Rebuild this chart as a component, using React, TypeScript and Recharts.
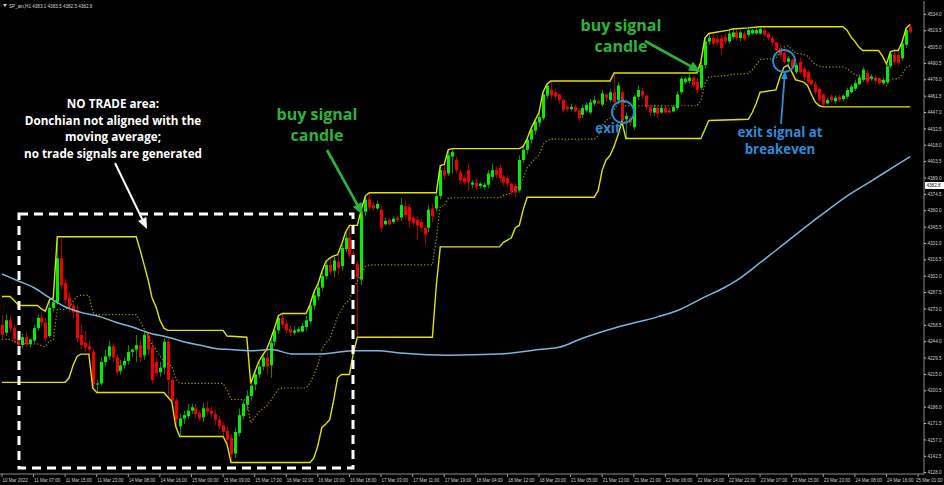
import React from 'react';
import { ComposedChart, Bar, Line, XAxis, YAxis } from 'recharts';

// SP_ain H1 candles, one value per hour starting 10 Mar 2022
const OPEN = [
  4259, 4252, 4263, 4256, 4246, 4241, 4248, 4242, 4245, 4256,
  4265, 4261, 4249, 4274, 4279, 4318, 4296, 4283, 4276, 4272,
  4250, 4243, 4240, 4235, 4206, 4207, 4226, 4231, 4240, 4230,
  4218, 4223, 4227, 4235, 4237, 4241, 4232, 4250, 4239, 4226,
  4217, 4221, 4244, 4210, 4192, 4169, 4176, 4178, 4183, 4185,
  4181, 4177, 4185, 4183, 4180, 4175, 4170, 4165, 4159, 4145,
  4163, 4178, 4188, 4196, 4206, 4215, 4222, 4230, 4223, 4244,
  4254, 4265, 4260, 4255, 4252, 4253, 4253, 4257, 4262, 4276,
  4284, 4292, 4302, 4312, 4307, 4315, 4311, 4326, 4336, 4322,
  4313, 4299, 4359, 4370, 4365, 4362, 4361, 4348, 4352, 4350,
  4354, 4354, 4364, 4363, 4354, 4352, 4350, 4345, 4345, 4362,
  4362, 4373, 4396, 4393, 4408, 4405, 4394, 4389, 4396, 4383,
  4385, 4382, 4381, 4383, 4390, 4396, 4398, 4390, 4389, 4384,
  4382, 4378, 4405, 4414, 4423, 4431, 4438, 4442, 4462, 4467,
  4465, 4463, 4458, 4452, 4450, 4452, 4449, 4445, 4449, 4447,
  4455, 4457, 4454, 4463, 4458, 4465, 4458, 4465, 4441, 4442,
  4434, 4461, 4466, 4462, 4452, 4447, 4451, 4447, 4451, 4449,
  4448, 4451, 4465, 4474, 4475, 4478, 4474, 4469, 4489, 4510,
  4513, 4512, 4513, 4514, 4510, 4514, 4518, 4513, 4517, 4516,
  4517, 4517, 4517, 4520, 4517, 4513, 4509, 4504, 4500, 4492,
  4494, 4483, 4492, 4486, 4483, 4476, 4472, 4468, 4463, 4455,
  4461, 4457, 4461, 4459, 4461, 4465, 4468, 4472, 4476, 4482,
  4477, 4478, 4477, 4473, 4474, 4488, 4498, 4498, 4495, 4507,
  4523,
];

const HIGH = [
  4268, 4268, 4267, 4259, 4252, 4251, 4252, 4247, 4259, 4268,
  4270, 4265, 4281, 4283, 4337, 4336, 4300, 4288, 4278, 4277,
  4259, 4254, 4246, 4238, 4210, 4230, 4237, 4245, 4243, 4233,
  4228, 4230, 4241, 4238, 4250, 4246, 4254, 4252, 4246, 4230,
  4226, 4247, 4248, 4212, 4194, 4180, 4183, 4189, 4189, 4189,
  4183, 4190, 4191, 4187, 4183, 4178, 4173, 4169, 4162, 4168,
  4185, 4192, 4201, 4207, 4217, 4226, 4232, 4237, 4246, 4256,
  4267, 4269, 4263, 4259, 4258, 4257, 4261, 4267, 4277, 4288,
  4295, 4306, 4315, 4318, 4320, 4321, 4330, 4341, 4347, 4325,
  4316, 4361, 4373, 4376, 4368, 4369, 4364, 4354, 4354, 4355,
  4356, 4371, 4370, 4366, 4356, 4355, 4353, 4347, 4365, 4366,
  4375, 4400, 4401, 4414, 4415, 4408, 4396, 4392, 4402, 4387,
  4389, 4385, 4385, 4396, 4402, 4399, 4401, 4392, 4392, 4385,
  4385, 4409, 4417, 4424, 4433, 4440, 4447, 4465, 4472, 4475,
  4468, 4464, 4460, 4454, 4455, 4454, 4451, 4454, 4456, 4459,
  4462, 4459, 4467, 4464, 4468, 4482, 4474, 4467, 4447, 4444,
  4463, 4471, 4469, 4463, 4454, 4454, 4453, 4454, 4453, 4452,
  4454, 4466, 4479, 4479, 4481, 4479, 4477, 4492, 4513, 4517,
  4516, 4515, 4516, 4517, 4520, 4521, 4520, 4520, 4519, 4522,
  4521, 4522, 4523, 4522, 4518, 4515, 4510, 4507, 4502, 4497,
  4495, 4491, 4496, 4488, 4485, 4478, 4474, 4470, 4464, 4460,
  4463, 4462, 4463, 4463, 4469, 4472, 4476, 4481, 4487, 4485,
  4481, 4480, 4478, 4478, 4490, 4501, 4501, 4502, 4510, 4522,
  4525,
];

const LOW = [
  4247, 4249, 4252, 4243, 4237, 4238, 4239, 4239, 4243, 4254,
  4258, 4244, 4247, 4270, 4277, 4290, 4277, 4270, 4265, 4243,
  4237, 4235, 4232, 4203, 4199, 4205, 4222, 4228, 4226, 4214,
  4215, 4220, 4224, 4230, 4226, 4226, 4228, 4232, 4207, 4213,
  4213, 4215, 4195, 4191, 4169, 4160, 4171, 4175, 4180, 4176,
  4174, 4173, 4179, 4176, 4170, 4166, 4160, 4153, 4137, 4141,
  4160, 4175, 4183, 4192, 4201, 4212, 4219, 4215, 4212, 4240,
  4251, 4256, 4251, 4249, 4250, 4252, 4252, 4254, 4260, 4272,
  4281, 4289, 4299, 4303, 4301, 4303, 4307, 4323, 4318, 4311,
  4248, 4294, 4355, 4361, 4360, 4361, 4341, 4347, 4347, 4348,
  4350, 4351, 4353, 4345, 4347, 4334, 4341, 4329, 4341, 4350,
  4359, 4370, 4387, 4391, 4393, 4393, 4384, 4383, 4378, 4380,
  4378, 4380, 4379, 4380, 4387, 4389, 4385, 4382, 4381, 4374,
  4372, 4376, 4402, 4410, 4419, 4427, 4434, 4440, 4459, 4459,
  4458, 4455, 4447, 4448, 4448, 4447, 4439, 4442, 4447, 4445,
  4453, 4454, 4452, 4456, 4456, 4454, 4455, 4439, 4424, 4435,
  4432, 4458, 4459, 4449, 4444, 4444, 4442, 4446, 4446, 4446,
  4447, 4449, 4463, 4472, 4473, 4469, 4464, 4467, 4486, 4507,
  4505, 4506, 4498, 4508, 4508, 4512, 4511, 4510, 4510, 4514,
  4516, 4516, 4516, 4514, 4511, 4506, 4501, 4495, 4490, 4489,
  4485, 4481, 4481, 4476, 4472, 4471, 4463, 4455, 4452, 4454,
  4456, 4455, 4456, 4457, 4459, 4464, 4466, 4471, 4474, 4472,
  4475, 4473, 4471, 4471, 4472, 4486, 4489, 4488, 4493, 4504,
  4517,
];

const CLOSE = [
  4250, 4263, 4256, 4246, 4241, 4248, 4242, 4246, 4256, 4265,
  4261, 4247, 4274, 4279, 4318, 4294, 4281, 4275, 4270, 4247,
  4241, 4239, 4237, 4206, 4207, 4226, 4231, 4240, 4230, 4217,
  4223, 4227, 4235, 4237, 4241, 4230, 4250, 4237, 4210, 4216,
  4221, 4244, 4210, 4192, 4175, 4176, 4179, 4183, 4186, 4180,
  4176, 4185, 4182, 4180, 4175, 4169, 4164, 4157, 4144, 4164,
  4179, 4189, 4196, 4205, 4215, 4222, 4230, 4222, 4243, 4254,
  4265, 4259, 4254, 4252, 4254, 4255, 4258, 4263, 4276, 4285,
  4292, 4302, 4312, 4306, 4316, 4309, 4327, 4336, 4321, 4315,
  4301, 4357, 4370, 4363, 4362, 4366, 4345, 4351, 4348, 4353,
  4352, 4365, 4356, 4351, 4349, 4347, 4345, 4339, 4361, 4355,
  4373, 4396, 4391, 4409, 4412, 4396, 4387, 4385, 4385, 4385,
  4381, 4384, 4383, 4393, 4396, 4392, 4389, 4385, 4384, 4377,
  4376, 4405, 4414, 4423, 4432, 4439, 4443, 4463, 4471, 4462,
  4461, 4458, 4449, 4450, 4452, 4448, 4442, 4451, 4454, 4456,
  4458, 4455, 4464, 4460, 4465, 4456, 4471, 4440, 4444, 4438,
  4461, 4467, 4462, 4452, 4447, 4451, 4446, 4451, 4447, 4447,
  4452, 4463, 4477, 4477, 4478, 4471, 4467, 4489, 4510, 4513,
  4508, 4509, 4504, 4510, 4517, 4518, 4513, 4518, 4512, 4520,
  4520, 4520, 4521, 4516, 4513, 4509, 4502, 4498, 4492, 4495,
  4487, 4489, 4483, 4478, 4474, 4472, 4465, 4458, 4454, 4458,
  4458, 4460, 4458, 4462, 4467, 4470, 4473, 4478, 4485, 4474,
  4479, 4475, 4473, 4476, 4488, 4499, 4492, 4491, 4508, 4520,
  4518,
];

// Donchian channel, read as [bar, price] corner points
const UPPER: [number, number][] = [
  [0, 4284], [2, 4284], [3, 4281], [4, 4277], [5, 4276], [9, 4276], [10, 4273], [11, 4271],
  [12, 4281], [13, 4283], [14, 4337], [34, 4337], [35, 4325], [36, 4312], [37, 4299],
  [38, 4283], [39, 4275], [40, 4263], [41, 4256], [42, 4254], [56, 4254], [57, 4249],
  [62, 4248], [63, 4207], [64, 4217], [65, 4226], [66, 4232], [67, 4237], [68, 4246],
  [69, 4256], [70, 4267], [71, 4269], [77, 4269], [78, 4277], [79, 4288], [80, 4295],
  [81, 4306], [82, 4315], [83, 4318], [84, 4320], [85, 4321], [86, 4330], [87, 4341],
  [88, 4347], [90, 4347], [91, 4361], [92, 4373], [93, 4376], [110, 4376], [111, 4400],
  [112, 4401], [113, 4414], [114, 4415], [131, 4415], [132, 4417], [133, 4424], [134, 4433],
  [135, 4440], [136, 4447], [137, 4465], [138, 4472], [139, 4475], [154, 4475], [155, 4482],
  [176, 4482], [177, 4492], [178, 4513], [179, 4517], [184, 4520], [185, 4521], [189, 4522],
  [192, 4523], [213, 4523], [214, 4520], [215, 4514], [216, 4510], [217, 4505], [218, 4502],
  [222, 4502], [223, 4497], [224, 4490], [225, 4501], [226, 4502], [227, 4502], [228, 4510],
  [229, 4522], [230, 4525],
];

const LOWER: [number, number][] = [
  [0, 4208], [16, 4208], [17, 4212], [18, 4223], [19, 4231], [20, 4233], [22, 4233],
  [23, 4203], [24, 4199], [41, 4199], [42, 4195], [43, 4191], [44, 4169], [45, 4160],
  [56, 4160], [57, 4153], [58, 4137], [78, 4137], [79, 4141], [80, 4152], [81, 4168],
  [82, 4171], [83, 4175], [84, 4192], [85, 4212], [86, 4215], [88, 4215], [89, 4234],
  [90, 4248], [109, 4248], [110, 4294], [111, 4328], [126, 4328], [127, 4332], [128, 4334],
  [129, 4336], [130, 4345], [131, 4347], [132, 4361], [133, 4372], [150, 4372], [151, 4378],
  [152, 4396], [153, 4405], [154, 4409], [155, 4417], [156, 4427], [157, 4439], [158, 4424],
  [177, 4424], [178, 4432], [179, 4440], [189, 4441], [190, 4447], [191, 4455], [192, 4465],
  [196, 4467], [197, 4478], [198, 4487], [199, 4489], [200, 4483], [201, 4476], [202, 4475],
  [203, 4474], [204, 4471], [205, 4463], [206, 4456], [207, 4453], [208, 4452], [230, 4452],
];

const MIDDLE: [number, number][] = [
  [0, 4246], [2, 4246], [3, 4244.5], [4, 4242.5], [5, 4242], [9, 4242], [10, 4240.5],
  [11, 4239.5], [12, 4244.5], [13, 4245.5], [14, 4272.5], [16, 4272.5], [17, 4274.5],
  [18, 4280], [19, 4284], [20, 4285], [22, 4285], [23, 4270], [24, 4268], [34, 4268],
  [35, 4262], [36, 4255.5], [37, 4249], [38, 4241], [39, 4237], [40, 4231], [41, 4227.5],
  [42, 4224.5], [43, 4222.5], [44, 4211.5], [45, 4207], [56, 4207], [57, 4201], [58, 4193],
  [62, 4192.5], [63, 4172], [64, 4177], [65, 4181.5], [66, 4184.5], [67, 4187], [68, 4191.5],
  [69, 4196.5], [70, 4202], [71, 4203], [77, 4203], [78, 4207], [79, 4214.5], [80, 4223.5],
  [81, 4237], [82, 4243], [83, 4246.5], [84, 4256], [85, 4266.5], [86, 4272.5], [87, 4278],
  [88, 4281], [89, 4290.5], [90, 4297.5], [91, 4304.5], [92, 4310.5], [93, 4312], [109, 4312],
  [110, 4335], [111, 4364], [112, 4364.5], [113, 4371], [114, 4371.5], [126, 4371.5],
  [127, 4373.5], [128, 4374.5], [129, 4375.5], [130, 4380], [131, 4381], [132, 4389],
  [133, 4398], [134, 4402.5], [135, 4406], [136, 4409.5], [137, 4418.5], [138, 4422],
  [139, 4423.5], [150, 4423.5], [151, 4426.5], [152, 4435.5], [153, 4440], [154, 4442],
  [155, 4449.5], [156, 4454.5], [157, 4460.5], [158, 4453], [176, 4453], [177, 4458],
  [178, 4472.5], [179, 4478.5], [184, 4480], [185, 4481], [189, 4481.5], [190, 4484.5],
  [191, 4489], [192, 4494], [196, 4495], [197, 4500.5], [198, 4505], [199, 4506], [200, 4503],
  [201, 4499.5], [202, 4499], [203, 4498.5], [204, 4497], [205, 4493], [206, 4489.5],
  [207, 4488], [208, 4487.5], [213, 4487.5], [214, 4486], [215, 4483], [216, 4481],
  [217, 4478.5], [218, 4477], [222, 4477], [223, 4474.5], [224, 4471], [225, 4476.5],
  [226, 4477], [227, 4477], [228, 4481], [229, 4487], [230, 4488.5],
];

// slow moving average
const MA: [number, number][] = [
  [0, 4304], [4, 4298], [8, 4292], [12, 4283], [16, 4275], [20, 4270], [25, 4266], [29, 4261],
  [33, 4257], [37, 4252], [42, 4248], [46, 4244], [50, 4241], [54, 4238], [58, 4237], [63, 4236],
  [68, 4237], [74, 4233], [80, 4233], [89, 4236], [95, 4236], [101, 4234], [113, 4232],
  [126, 4233], [136, 4237], [141, 4239], [147, 4247], [156, 4257], [166, 4266], [172, 4273],
  [177, 4282], [183, 4292], [186, 4298], [192, 4314], [200, 4336], [207, 4355], [214, 4373],
  [220, 4386], [225, 4397], [230, 4408],
];

const Y_TICKS = [
  4128.0, 4142.5, 4157.0, 4171.5, 4186.0, 4200.5, 4215.0, 4229.5, 4244.0, 4258.5,
  4273.0, 4287.5, 4302.0, 4316.5, 4331.0, 4345.5, 4360.0, 4374.5, 4389.0, 4403.5,
  4418.0, 4432.5, 4447.0, 4461.5, 4476.0, 4490.5, 4505.0, 4519.5, 4534.0,
];

// one label every 8 bars
const X_LABELS = [
  '10 Mar 2022', '11 Mar 07:00', '11 Mar 15:00', '11 Mar 23:00', '14 Mar 08:00',
  '14 Mar 16:00', '15 Mar 00:00', '15 Mar 09:00', '15 Mar 17:00', '16 Mar 02:00',
  '16 Mar 10:00', '16 Mar 18:00', '17 Mar 03:00', '17 Mar 11:00', '17 Mar 19:00',
  '18 Mar 04:00', '18 Mar 12:00', '18 Mar 20:00', '21 Mar 05:00', '21 Mar 13:00',
  '21 Mar 21:00', '22 Mar 06:00', '22 Mar 14:00', '22 Mar 22:00', '23 Mar 07:00',
  '23 Mar 15:00', '23 Mar 23:00', '24 Mar 08:00', '24 Mar 16:00', '25 Mar 01:00',
];

const LAST_PRICE = 4382.8;
const HEADER = 'SP_ain,H1  4383.1 4383.5 4382.5 4382.8';

const SLOTS = 234; // candles plus the empty chart shift on the right
const AXIS_FONT = "'Liberation Sans', Arial, sans-serif";
const NOTE_FONT = "'Open Sans', 'DejaVu Sans', sans-serif";
const GREEN_TXT = '#2cb53a';
const BLUE_TXT = '#2a8ddb';

type Row = {
  i: number;
  o: number | null;
  h: number | null;
  l: number | null;
  c: number | null;
  range: [number, number] | null;
  upper: number | null;
  lower: number | null;
  mid: number | null;
  ma: number | null;
};

const rows: Row[] = [];
for (let i = 0; i < SLOTS; i++) {
  const has = i < OPEN.length;
  rows.push({
    i,
    o: has ? OPEN[i] : null,
    h: has ? HIGH[i] : null,
    l: has ? LOW[i] : null,
    c: has ? CLOSE[i] : null,
    range: has ? [LOW[i], HIGH[i]] : null,
    upper: null,
    lower: null,
    mid: null,
    ma: null,
  });
}
UPPER.forEach(([i, v]) => { rows[i].upper = v; });
LOWER.forEach(([i, v]) => { rows[i].lower = v; });
MIDDLE.forEach(([i, v]) => { rows[i].mid = v; });
MA.forEach(([i, v]) => { rows[i].ma = v; });

const X_TICKS = X_LABELS.map((_, k) => k * 8);

function Candle(props: any) {
  const { x, y, width, height, payload } = props;
  if (!payload || payload.o == null) return null;
  const { o, h, l, c } = payload;
  const top = Math.min(y, y + height);
  const bot = Math.max(y, y + height);
  const span = h - l || 1;
  const py = (v: number) => top + ((h - v) / span) * (bot - top);
  const up = c >= o;
  const left = Math.round(x + width / 2) - 1;
  const bTop = py(Math.max(o, c));
  const bBot = py(Math.min(o, c));
  return (
    <g>
      <line x1={left + 1.5} x2={left + 1.5} y1={top} y2={bot} stroke={up ? '#0c8a0c' : '#a80000'} strokeWidth={1} />
      <rect x={left} y={bTop} width={3} height={Math.max(1, bBot - bTop)} fill={up ? '#00f000' : '#f20000'} />
    </g>
  );
}

function XTick(props: any) {
  const { x, payload } = props;
  const k = payload.value / 8;
  const label = X_LABELS[k];
  const last = k === X_LABELS.length - 1;
  return (
    <g>
      <line x1={x} x2={x} y1={474} y2={477} stroke="#9a9a9a" strokeWidth={1} />
      <text
        x={last ? 942.5 : x + 0.5}
        y={481.5}
        fontSize={4.5}
        fill="#cfcfcf"
        fontFamily={AXIS_FONT}
        textAnchor={last ? 'end' : 'start'}
      >
        {label}
      </text>
    </g>
  );
}

function YTick(props: any) {
  const { x, y, payload } = props;
  return (
    <text x={x} y={y + 1.6} fontSize={4.6} fill="#cfcfcf" fontFamily={AXIS_FONT}>
      {payload.value.toFixed(1)}
    </text>
  );
}

function Arrow({ x1, y1, x2, y2, color, w, head }: { x1: number; y1: number; x2: number; y2: number; color: string; w: number; head: number }) {
  const dx = x2 - x1;
  const dy = y2 - y1;
  const len = Math.hypot(dx, dy);
  const ux = dx / len;
  const uy = dy / len;
  const bx = x2 - ux * head;
  const by = y2 - uy * head;
  const hw = head * 0.42;
  return (
    <g>
      <line x1={x1} y1={y1} x2={bx + ux} y2={by + uy} stroke={color} strokeWidth={w} />
      <polygon points={`${x2},${y2} ${bx - uy * hw},${by + ux * hw} ${bx + uy * hw},${by - ux * hw}`} fill={color} />
    </g>
  );
}

function Notes() {
  const bold = { fontFamily: NOTE_FONT, fontWeight: 700 } as const;
  return (
    <svg width={944} height={485} style={{ position: 'absolute', left: 0, top: 0, pointerEvents: 'none' }}>
      {/* chart header */}
      <polygon points="3,4 7,4 5,7" fill="#cfcfcf" />
      <text x={9} y={7.5} fontSize={4.6} fill="#d6d6d6" fontFamily={AXIS_FONT}>{HEADER}</text>

      {/* last price box */}
      <rect x={925} y={182} width={19} height={7} fill="#ffffff" />
      <text x={926.5} y={187.3} fontSize={4.6} fill="#000" fontFamily={AXIS_FONT}>{LAST_PRICE.toFixed(1)}</text>

      {/* no-trade zone */}
      <rect x={19} y={214} width={334} height={254} fill="none" stroke="#ffffff" strokeWidth={3} strokeDasharray="9 6" />
      <g fill="#ffffff" fontSize={11.7} textAnchor="middle" {...bold}>
        <text x={113} y={107.7}>NO TRADE area:</text>
        <text x={113} y={125}>Donchian not aligned with the</text>
        <text x={113} y={141.3}>moving average;</text>
        <text x={113} y={157.5}>no trade signals are generated</text>
      </g>
      <Arrow x1={115} y1={163} x2={147} y2={229} color="#ffffff" w={2} head={11} />

      {/* buy signals */}
      <g fill={GREEN_TXT} fontSize={16} textAnchor="middle" {...bold}>
        <text x={317} y={120}>buy signal</text>
        <text x={317} y={141}>candle</text>
        <text x={621} y={31}>buy signal</text>
        <text x={621} y={52}>candle</text>
      </g>
      <Arrow x1={327} y1={150} x2={363} y2={215} color={GREEN_TXT} w={2.6} head={12} />
      <Arrow x1={645} y1={41} x2={701} y2={72} color={GREEN_TXT} w={2.6} head={12} />

      {/* exits */}
      <circle cx={623} cy={112} r={11} fill="none" stroke={BLUE_TXT} strokeWidth={1.8} />
      <circle cx={784} cy={61} r={11} fill="none" stroke={BLUE_TXT} strokeWidth={1.8} />
      <g fill={BLUE_TXT} fontSize={13.3} textAnchor="middle" {...bold}>
        <text x={608} y={133}>exit</text>
        <text x={780} y={137}>exit signal at</text>
        <text x={780} y={153.5}>breakeven</text>
      </g>
      <Arrow x1={781} y1={124} x2={785} y2={71} color={BLUE_TXT} w={1.8} head={8} />
    </svg>
  );
}

export default function App() {
  return (
    <div style={{ position: 'absolute', left: 0, top: 0, width: 944, height: 485, background: '#000', overflow: 'hidden' }}>
      <ComposedChart
        width={944}
        height={485}
        data={rows}
        margin={{ top: 1, right: 0, bottom: 0, left: 0 }}
        barCategoryGap={0}
        barGap={0}
      >
        <XAxis
          dataKey="i"
          type="category"
          ticks={X_TICKS}
          interval={0}
          height={11}
          tickLine={false}
          tick={<XTick />}
          axisLine={{ stroke: '#8a8a8a' }}
        />
        <YAxis
          orientation="right"
          type="number"
          width={20}
          domain={[4126.8, 4545.8]}
          allowDataOverflow
          ticks={Y_TICKS}
          interval={0}
          tickSize={2}
          tickMargin={1.5}
          tickLine={{ stroke: '#bdbdbd' }}
          tick={<YTick />}
          axisLine={{ stroke: '#8a8a8a' }}
        />
        <Bar dataKey="range" shape={<Candle />} isAnimationActive={false} />
        <Line dataKey="mid" type="linear" stroke="#a08e00" strokeWidth={1.2} strokeDasharray="1.3 2" dot={false} connectNulls isAnimationActive={false} />
        <Line dataKey="upper" type="linear" stroke="#e2e200" strokeWidth={1.4} dot={false} connectNulls isAnimationActive={false} />
        <Line dataKey="lower" type="linear" stroke="#e2e200" strokeWidth={1.4} dot={false} connectNulls isAnimationActive={false} />
        <Line dataKey="ma" type="monotone" stroke="#79b6df" strokeWidth={1.5} dot={false} connectNulls isAnimationActive={false} />
      </ComposedChart>
      <Notes />
    </div>
  );
}
